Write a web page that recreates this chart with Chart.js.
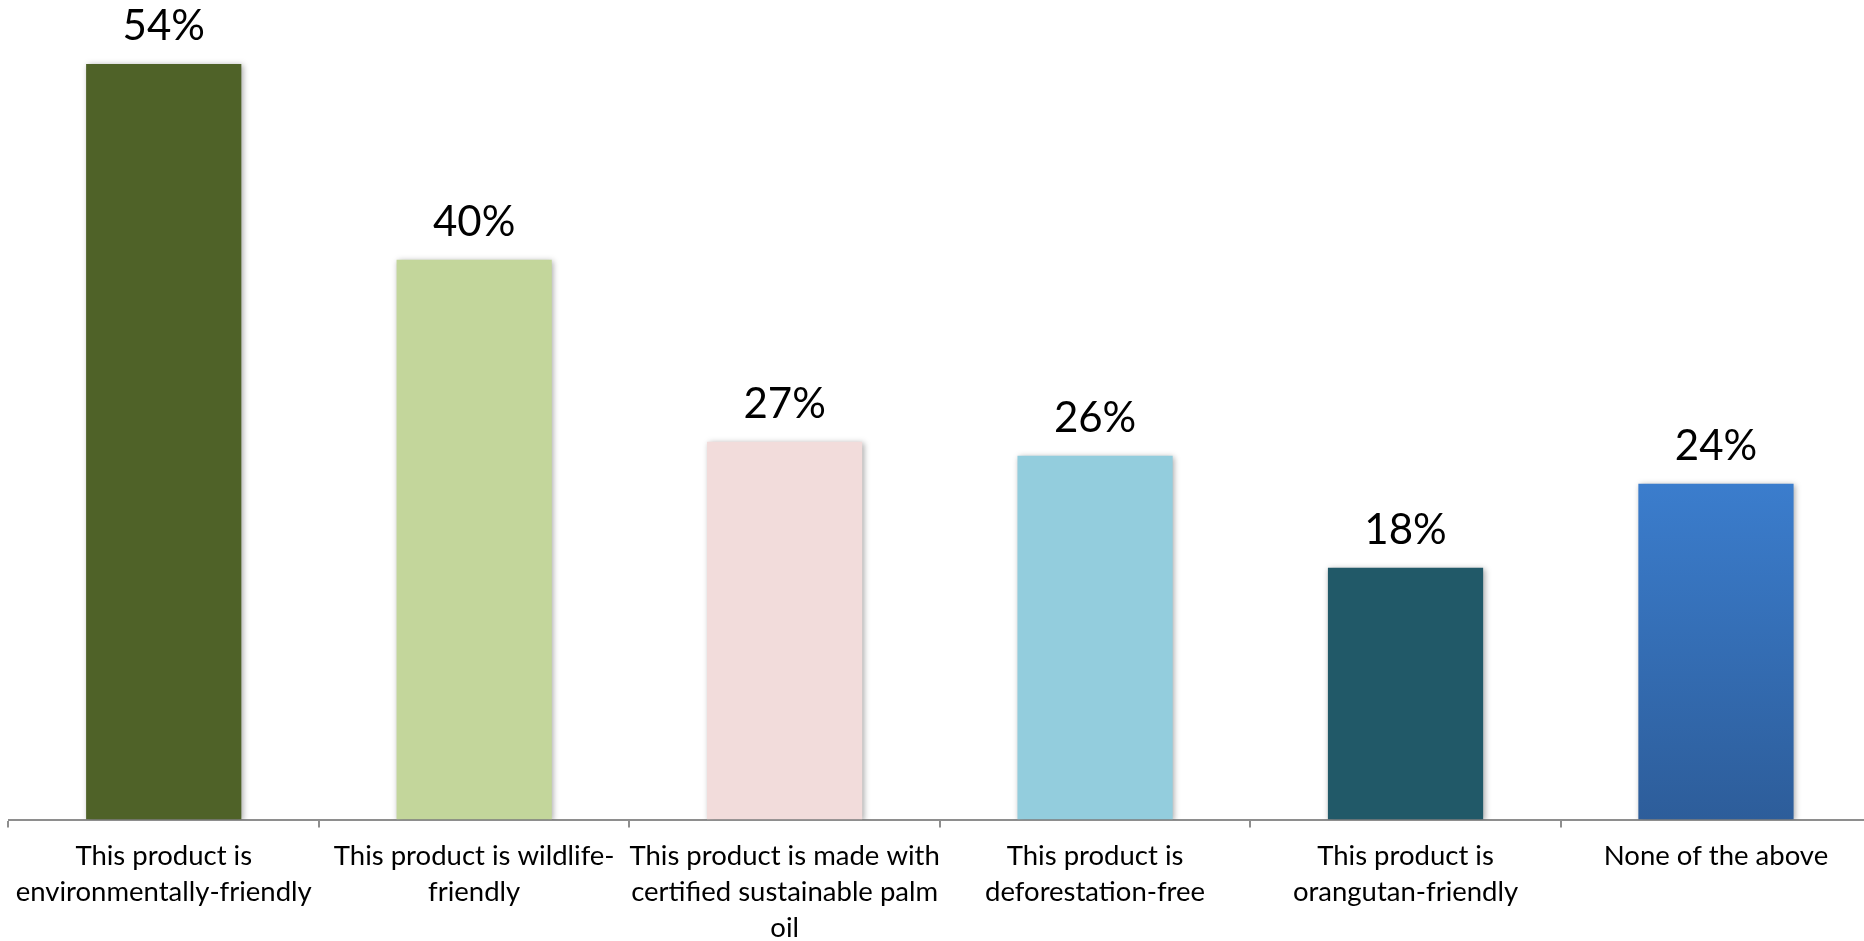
<!DOCTYPE html>
<html>
<head>
<meta charset="utf-8">
<style>
  html, body { margin: 0; padding: 0; background: #ffffff; overflow: hidden; }
  #wrap { position: absolute; left: 0; top: -20px; width: 1880px; height: 961px; }
  canvas { display: block; }
</style>
<script src="https://cdn.jsdelivr.net/npm/chart.js@4.4.1/dist/chart.umd.min.js"></script>
</head>
<body>
<div id="wrap"><canvas id="chart" width="1880" height="961"></canvas></div>
<script>
// Survey responses: share of respondents choosing each label statement
const categories = [
  ["This product is", "environmentally-friendly"],
  ["This product is wildlife-", "friendly"],
  ["This product is made with", "certified sustainable palm", "oil"],
  ["This product is", "deforestation-free"],
  ["This product is", "orangutan-friendly"],
  ["None of the above"]
];
const shares = [54, 40, 27, 26, 18, 24];
const barColors = ["#4F6228", "#C3D69B", "#F2DCDB", "#93CDDD", "#215968", null];

const FONT = "Lato, 'Open Sans', 'Liberation Sans', sans-serif";

// Last bar uses a vertical blue gradient
function barFill(context) {
  const i = context.dataIndex;
  if (barColors[i]) return barColors[i];
  const chart = context.chart;
  const y = chart.scales.y;
  if (!y || !chart.chartArea) return "#3A7BCB";
  const top = y.getPixelForValue(shares[i]);
  const bottom = y.getPixelForValue(0);
  const g = chart.ctx.createLinearGradient(0, top, 0, bottom);
  g.addColorStop(0, "#3B7DCD");
  g.addColorStop(1, "#2D5D9A");
  return g;
}

// Soft drop shadow under the bars
const barShadow = {
  id: "barShadow",
  beforeDatasetsDraw(chart) {
    const ctx = chart.ctx;
    ctx.save();
    ctx.shadowColor = "rgba(0,0,0,0.35)";
    ctx.shadowBlur = 6;
    ctx.shadowOffsetX = 1.5;
    ctx.shadowOffsetY = 1.5;
  },
  afterDatasetsDraw(chart) {
    chart.ctx.restore();
  }
};

// Percentage labels above each bar
const valueLabels = {
  id: "valueLabels",
  afterDraw(chart) {
    const ctx = chart.ctx;
    const meta = chart.getDatasetMeta(0);
    ctx.save();
    ctx.font = "42px " + FONT;
    ctx.fillStyle = "#000000";
    ctx.textAlign = "center";
    ctx.textBaseline = "alphabetic";
    meta.data.forEach((bar, i) => {
      ctx.fillText(shares[i] + "%", bar.x, bar.y - 24);
    });
    ctx.restore();
  }
};

new Chart(document.getElementById("chart"), {
  type: "bar",
  data: {
    labels: categories,
    datasets: [{
      data: shares,
      backgroundColor: barFill,
      borderWidth: 0,
      categoryPercentage: 1.0,
      barPercentage: 0.5
    }]
  },
  options: {
    responsive: false,
    animation: false,
    layout: { padding: { left: 8.5, right: 8.8, top: 0, bottom: 0 } },
    plugins: {
      legend: { display: false },
      tooltip: { enabled: false }
    },
    scales: {
      x: {
        offset: true,
        grid: {
          offset: true,
          drawOnChartArea: false,
          drawTicks: true,
          tickLength: 8,
          color: "#8E8E8E",
          lineWidth: 2
        },
        border: { display: true, color: "#8E8E8E", width: 2 },
        ticks: {
          autoSkip: false,
          maxRotation: 0,
          minRotation: 0,
          padding: 11,
          color: "#000000",
          font: { family: FONT, size: 27.5, lineHeight: "36px" }
        },
        afterFit(scale) { scale.height = 121.5; }
      },
      y: {
        display: false,
        min: 0,
        max: 60
      }
    }
  },
  plugins: [barShadow, valueLabels]
});
</script>
</body>
</html>
